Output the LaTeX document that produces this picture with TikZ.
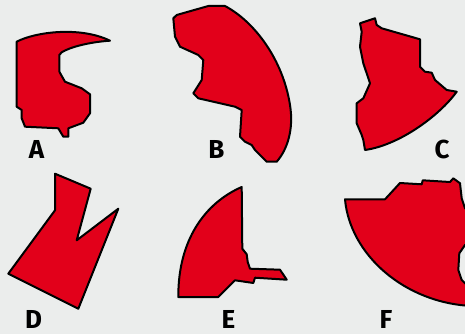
\documentclass[tikz,border=0pt]{standalone}
\usepackage{fontspec}
\setsansfont{Fira Sans}
\usepackage{tikz}
\usetikzlibrary{positioning}

\definecolor{paper}{RGB}{235,237,236}
\definecolor{shard}{RGB}{226,0,26}

\begin{document}
\begin{tikzpicture}[
        x=1pt, y=-1pt,
        piece/.style={fill=shard, draw=black, line width=2pt, line join=round},
        tag/.style={font=\sffamily\bfseries\fontsize{26}{26}\selectfont, inner sep=0pt}
    ]

    \fill[paper] (0,0) rectangle (465,334);
    \useasboundingbox (0,0) rectangle (465,334);

    % A
    \draw[piece] (16.7,41.7) .. controls (35,32) and (80,26) .. (110,40.7)
        .. controls (90,42) and (70,47) .. (61.7,52.3) -- (59.3,55) -- (59.5,72)
        -- (65,81.7) -- (81.7,88.3) -- (90,94.3) -- (90,113.3) -- (83.3,122.7)
        -- (68.3,128.3) -- (68.3,136.7) -- (63.3,136.7) -- (58.3,128.3)
        -- (25,126.7) -- (21.7,118.3) -- (21.7,110) -- (16.7,106.7) -- cycle;

    % B
    \draw[piece] (173.3,18.3) -- (176.7,15) -- (208.3,6) -- (225,6)
        .. controls (255,22) and (283,60) .. (290,105)
        .. controls (294,130) and (287,150) .. (276.7,161.7)
        -- (266.7,161.7) -- (255,150) -- (251.7,145) -- (245,141.7) -- (240,136.7)
        -- (241.7,110) -- (235,106.7) -- (198.3,98.3) -- (193.3,93.3) -- (201.7,80)
        -- (203.3,60) -- (198.3,55) -- (180,46.7) -- (175,36.7) -- cycle;

    % C
    \draw[piece] (360,23.3) -- (375,18.3) -- (376.7,25) -- (381.7,28.3) -- (420,39.3)
        -- (420,66.7) -- (425,71.7) -- (431.7,72.7) -- (435,80) -- (446.7,90) -- (456.7,91.7)
        .. controls (440,115) and (400,145) .. (365,150)
        -- (363.3,140) -- (361.7,135) -- (356.7,123.3) -- (356.7,103.3) -- (363.3,98.3)
        -- (370,83.3) -- (363.3,63.3) -- (360,46.7) -- (361.7,31.7) -- cycle;

    % D
    \draw[piece] (55,173.7) -- (90.7,188.7) -- (76.7,240.3) -- (118.3,208.7)
        -- (78.3,308.7) -- (8.3,273.7) -- (55,210.3) -- cycle;

    % E
    \draw[piece] (241.7,187) -- (242.3,248.7) -- (246.7,254.3) -- (247.7,262) -- (250,268.7)
        -- (280,269.7) -- (286.7,279.7) -- (255,277.7) -- (253.3,283) -- (235,280.3)
        -- (218.3,297) -- (178.3,297)
        .. controls (178,240) and (205,203) .. cycle;

    % F runs off the right edge
    \begin{scope}
        \clip (0,0) rectangle (465,334);
        \draw[piece] (345,199.3) -- (385,199.3) -- (400,183) -- (421.7,184.3) -- (422.7,180.3)
            -- (450,182) -- (453.3,178.3) -- (460,183.3) -- (461.7,198.3) -- (465,208.3)
            -- (472,210) -- (472,243) -- (465,245) -- (459.3,253.3) -- (458.3,270)
            -- (461.7,280) -- (465,283.3) -- (472,285) -- (472,306)
            .. controls (405,303) and (350,255) .. cycle;
    \end{scope}

    \node[tag] (tagA) at (36.5,149) {A};
    \node[tag] (tagB) at (216.5,149) {B};
    \node[tag] (tagC) at (442,149) {C};
    \node[tag] (tagD) at (33.5,319) {D};
    \node[tag] (tagE) at (228.5,319) {E};
    \node[tag] (tagF) at (386,319) {F};

\end{tikzpicture}
\end{document}
